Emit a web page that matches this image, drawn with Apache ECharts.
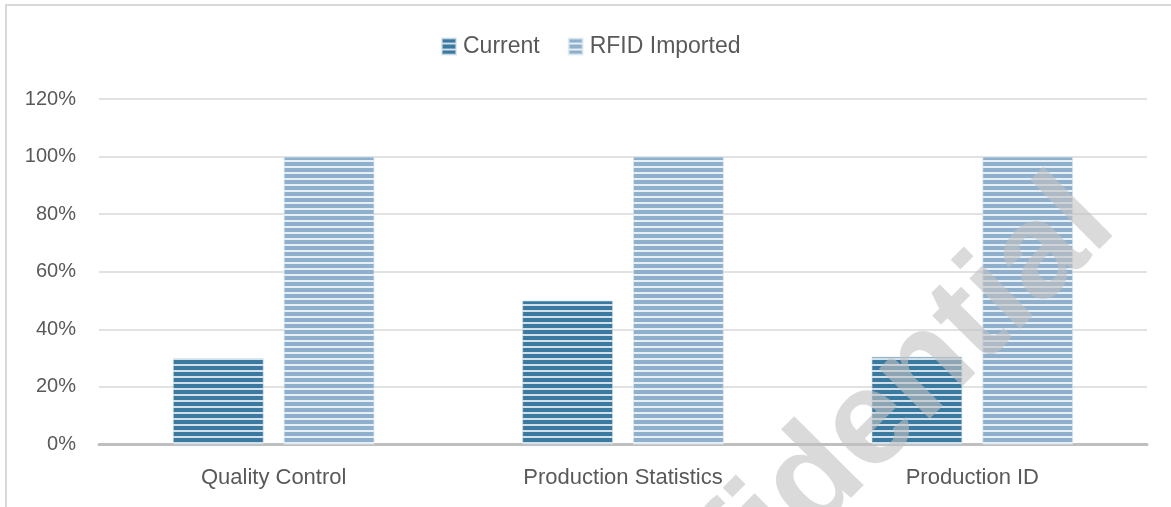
<!DOCTYPE html>
<html>
<head>
<meta charset="utf-8">
<script src="https://cdn.jsdelivr.net/npm/echarts@6/dist/echarts.min.js"></script>
<style>
html,body{margin:0;padding:0;background:#fff;}
#chart{width:1171px;height:507px;}
</style>
</head>
<body>
<div id="chart"></div>
<script>
const categories = ['Quality Control', 'Production Statistics', 'Production ID'];
const seriesNames = ['Current', 'RFID Imported'];
const currentValues = [30, 50, 30.5];
const rfidValues = [100, 100, 100];
const yTickMin = 0, yTickMax = 120, yTickStep = 20;

function stripePattern(base, line) {
  const c = document.createElement('canvas');
  c.width = 8; c.height = 6;
  const ctx = c.getContext('2d');
  ctx.fillStyle = base; ctx.fillRect(0, 0, 8, 6);
  ctx.fillStyle = line; ctx.fillRect(0, 4, 8, 2);
  return { image: c, repeat: 'repeat' };
}
const darkFill = stripePattern('#3a7aa0', '#d3e0e9');
const lightFill = stripePattern('#8fb0cc', '#e7eef4');

const chart = echarts.init(document.getElementById('chart'), null, { renderer: 'canvas' });
const font = 'Liberation Sans, Arial, sans-serif';
chart.setOption({
  animation: false,
  backgroundColor: '#fff',
  grid: { left: 99, right: 24, top: 99, bottom: 62.5, containLabel: false },
  legend: {
    data: seriesNames,
    left: 436, top: 30,
    itemWidth: 14, itemHeight: 16, itemGap: 28,
    icon: 'rect',
    textStyle: { fontFamily: font, fontSize: 23, color: '#595959', padding: [0, 0, 0, 2] }
  },
  xAxis: {
    type: 'category',
    data: categories,
    axisLine: { lineStyle: { color: '#bfbfbf', width: 3 } },
    axisTick: { show: false },
    axisLabel: { fontFamily: font, fontSize: 22, color: '#595959', margin: 22 },
    splitLine: { show: false }
  },
  yAxis: {
    type: 'value',
    min: yTickMin, max: yTickMax, interval: yTickStep,
    axisLine: { show: false },
    axisTick: { show: false },
    axisLabel: { fontFamily: font, fontSize: 20, color: '#595959', margin: 23, formatter: '{value}%' },
    splitLine: { lineStyle: { color: '#d9d9d9', width: 1.5 } }
  },
  series: [
    {
      name: seriesNames[0], type: 'bar', data: currentValues,
      barWidth: '26%', barGap: '22%',
      itemStyle: { color: darkFill, borderColor: 'rgba(200,220,232,0.6)', borderWidth: 1 }
    },
    {
      name: seriesNames[1], type: 'bar', data: rfidValues,
      barWidth: '26%', barGap: '22%',
      itemStyle: { color: lightFill, borderColor: 'rgba(220,232,242,0.7)', borderWidth: 1 }
    }
  ],
  graphic: [
    {
      type: 'rect', silent: true, z: -1,
      shape: { x: 6, y: 5, width: 1200, height: 540 },
      style: { fill: 'none', stroke: '#d9d9d9', lineWidth: 2 }
    },
    {
      type: 'text', silent: true, z: 100,
      x: 1093, y: 203, rotation: Math.PI / 4,
      style: {
        text: 'Confidential',
        font: 'bold 135px Liberation Sans, Arial, sans-serif',
        fill: 'rgba(193,193,193,0.6)',
        align: 'right', verticalAlign: 'middle'
      }
    }
  ]
});
</script>
</body>
</html>
